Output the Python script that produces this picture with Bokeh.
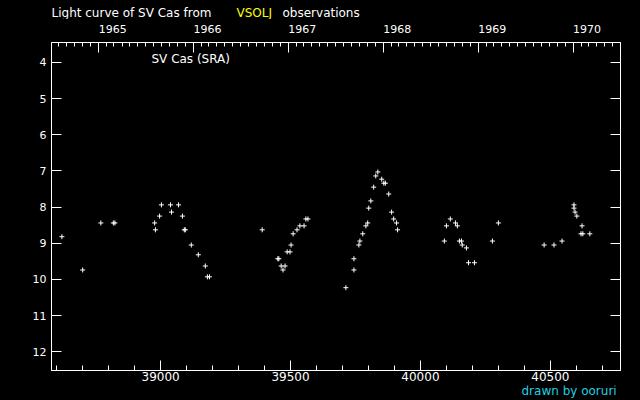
import pandas as pd
from bokeh.plotting import figure
from bokeh.layouts import column
from bokeh.models import Range1d, LinearAxis, SingleIntervalTicker, FixedTicker, Label, ColumnDataSource
from bokeh.embed import file_html
from bokeh.resources import INLINE

# Observations: JD - 2400000 and visual magnitude
jd = [38620, 38700, 38770, 38818, 38824, 38977, 38980, 38996, 39003, 39038,
      39042, 39069, 39084, 39091, 39095, 39118, 39145, 39172, 39180, 39188,
      39391, 39451, 39455, 39464, 39479, 39471, 39487, 39498, 39502, 39510,
      39525, 39536, 39552, 39559, 39567, 39713, 39744, 39744, 39763, 39767,
      39778, 39790, 39797, 39801, 39809, 39820, 39828, 39836, 39851, 39859,
      39865, 39878, 39889, 39897, 39908, 39912, 40092, 40100, 40115, 40135,
      40142, 40150, 40158, 40161, 40177, 40185, 40208, 40277, 40300, 40476,
      40514, 40545, 40591, 40591, 40595, 40602, 40622, 40618, 40625, 40652]
mag = [8.82, 9.74, 8.44, 8.44, 8.44, 8.44, 8.63, 8.25, 7.94, 7.94,
       8.14, 7.94, 8.25, 8.63, 8.63, 9.05, 9.32, 9.63, 9.93, 9.93,
       8.63, 9.43, 9.43, 9.63, 9.63, 9.74, 9.24, 9.24, 9.05, 8.74,
       8.63, 8.52, 8.52, 8.33, 8.33, 10.23, 9.74, 9.43, 9.05, 8.94,
       8.74, 8.52, 8.44, 8.03, 7.83, 7.45, 7.14, 7.03, 7.23, 7.34,
       7.34, 7.64, 8.14, 8.33, 8.44, 8.63, 8.94, 8.52, 8.33, 8.44,
       8.52, 8.94, 8.94, 9.05, 9.13, 9.54, 9.54, 8.94, 8.44, 9.05,
       9.05, 8.94, 7.94, 8.03, 8.14, 8.25, 8.52, 8.74, 8.74, 8.74]

years = [1965, 1966, 1967, 1968, 1969, 1970]
year_labels = ["1965", "1966", "1967", "1968", "1969", "1970"]
mag_ticks = [4, 5, 6, 7, 8, 9, 10, 11, 12]

x_lo, x_hi = 38580, 40770
y_lo, y_hi = 12.52, 3.45

MJD0 = pd.Timestamp("1858-11-17")


def to_jd(ts):
    return (ts - MJD0).days + 0.5


year_starts = [to_jd(pd.Timestamp(f"{y}-01-01")) for y in years]
month_starts = [to_jd(t) for t in pd.date_range("1964-01-01", "1971-01-01", freq="MS")]
month_starts = [m for m in month_starts if x_lo <= m <= x_hi]

FONT = "DejaVu Sans"
FSP = "\u2007" * 4  # figure spaces: left-align year text at its tick
BLACK = {"background-color": "black"}


def strip(h):
    f = figure(width=640, height=h, x_range=Range1d(0, 1), y_range=Range1d(0, 1),
               output_backend="svg", toolbar_location=None,
               x_axis_location=None, y_axis_location=None,
               min_border=0, background_fill_color="black", border_fill_color="black",
               outline_line_color=None, styles=BLACK)
    f.grid.visible = False
    return f


# ---- title strip ----
top = strip(19)
for txt, xx, col in [("Light curve of SV Cas from", 0, "white"),
                     ("VSOLJ", 185, "#ffff00"),
                     ("observations", 231, "white")]:
    top.add_layout(Label(x=xx, y=7, x_units="screen", y_units="screen", text=txt,
                         text_color=col, text_font=FONT, text_font_size="12px",
                         text_align="left", text_baseline="alphabetic"))

# ---- main chart ----
p = figure(width=640, height=366, x_range=Range1d(x_lo, x_hi), y_range=Range1d(y_lo, y_hi),
           output_backend="svg", toolbar_location=None,
           min_border_left=51, min_border_right=20, min_border_top=22, min_border_bottom=15,
           background_fill_color="black", border_fill_color="black",
           outline_line_color="white", outline_line_width=1, styles=BLACK)
p.xgrid.visible = False
p.ygrid.visible = False


def style(ax, tick_in, minor_in, size="11px", standoff=4):
    ax.axis_line_color = "white"
    ax.major_tick_line_color = "white"
    ax.minor_tick_line_color = "white"
    ax.major_tick_in = tick_in
    ax.major_tick_out = 0
    ax.minor_tick_in = minor_in
    ax.minor_tick_out = 0
    ax.major_label_standoff = standoff
    ax.major_label_text_color = "white"
    ax.major_label_text_font = FONT
    ax.major_label_text_font_size = size


xb = p.xaxis[0]
xb.ticker = SingleIntervalTicker(interval=500, num_minor_ticks=5)
style(xb, 10, 5, size="12px", standoff=1)

yl = p.yaxis[0]
yl.ticker = SingleIntervalTicker(interval=1, num_minor_ticks=0)
style(yl, 10, 0, size="11px", standoff=5)

yr = LinearAxis(ticker=FixedTicker(ticks=[], minor_ticks=mag_ticks))
style(yr, 0, 10)
p.add_layout(yr, "right")

xt = LinearAxis(ticker=FixedTicker(ticks=year_starts, minor_ticks=month_starts),
                major_label_overrides={ys: FSP + lab for ys, lab in zip(year_starts, year_labels)})
style(xt, 10, 4, size="11px", standoff=7)
p.add_layout(xt, "above")

src = ColumnDataSource(data=dict(jd=jd, mag=mag))
p.scatter("jd", "mag", source=src, marker="cross", size=5, line_color="white", line_width=1)

p.add_layout(Label(x=100, y=312, x_units="screen", y_units="screen", text="SV Cas (SRA)",
                   text_color="white", text_font=FONT, text_font_size="12px",
                   text_align="left", text_baseline="alphabetic"))

# ---- footer strip ----
foot = strip(15)
foot.add_layout(Label(x=470, y=10, x_units="screen", y_units="screen", text="drawn by ooruri",
                      text_color="#20d0e0", text_font=FONT, text_font_size="12px",
                      text_align="left", text_baseline="alphabetic"))

layout = column(top, p, foot, spacing=0, styles=BLACK)
open("out.html", "w").write(file_html(layout, INLINE))
